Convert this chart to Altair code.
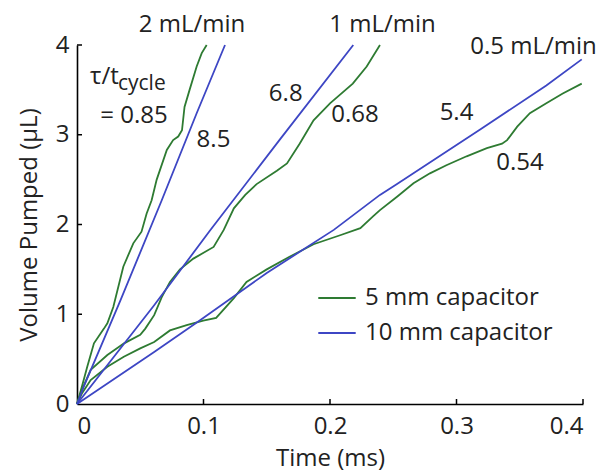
import altair as alt
import pandas as pd

# Pumped volume traces (time in ms, volume in µL) for three flow rates
green_2_t = [0, 0.004, 0.0081, 0.0134, 0.0213, 0.024, 0.0287, 0.0366, 0.0445, 0.051, 0.055,
             0.059, 0.063, 0.071, 0.076, 0.080, 0.083, 0.085, 0.089, 0.0946, 0.0986, 0.1025]
green_2_v = [0, 0.2, 0.415, 0.676, 0.84, 0.90, 1.08, 1.53, 1.79, 1.92, 2.12,
             2.27, 2.50, 2.83, 2.94, 2.98, 3.05, 3.31, 3.50, 3.76, 3.91, 4.0]

green_1_t = [0, 0.004, 0.0108, 0.024, 0.0372, 0.050, 0.054, 0.061, 0.067, 0.0735, 0.0814,
             0.092, 0.108, 0.116, 0.124, 0.133, 0.142, 0.158, 0.166, 0.176, 0.187, 0.200,
             0.218, 0.229, 0.2395]
green_1_v = [0, 0.16, 0.38, 0.546, 0.676, 0.77, 0.84, 0.99, 1.19, 1.36, 1.50,
             1.62, 1.75, 1.94, 2.18, 2.33, 2.45, 2.60, 2.68, 2.90, 3.16, 3.35,
             3.57, 3.76, 4.0]

green_05_t = [0, 0.004, 0.0108, 0.024, 0.037, 0.050, 0.061, 0.0735, 0.0867, 0.0998, 0.110,
              0.124, 0.134, 0.150, 0.168, 0.187, 0.208, 0.224, 0.234, 0.2395, 0.253, 0.266,
              0.279, 0.292, 0.308, 0.324, 0.336, 0.340, 0.348, 0.358, 0.371, 0.384, 0.399]
green_05_v = [0, 0.12, 0.267, 0.415, 0.527, 0.62, 0.69, 0.82, 0.88, 0.93, 0.96,
              1.18, 1.36, 1.50, 1.64, 1.78, 1.88, 1.96, 2.09, 2.16, 2.31, 2.46,
              2.57, 2.66, 2.76, 2.85, 2.90, 2.94, 3.09, 3.24, 3.35, 3.46, 3.57]

blue_2_t = [0, 0.0055, 0.0345, 0.067, 0.0946, 0.117]
blue_2_v = [0, 0.2, 1.16, 2.27, 3.24, 4.0]

blue_1_t = [0, 0.061, 0.105, 0.160, 0.2184]
blue_1_v = [0, 1.1, 1.93, 2.94, 4.0]

blue_05_t = [0, 0.061, 0.097, 0.150, 0.203, 0.2395, 0.253, 0.319, 0.371, 0.399]
blue_05_v = [0, 0.58, 0.93, 1.46, 1.94, 2.33, 2.45, 3.06, 3.55, 3.84]

series = [
    ("5 mm capacitor", "2 mL/min", green_2_t, green_2_v),
    ("5 mm capacitor", "1 mL/min", green_1_t, green_1_v),
    ("5 mm capacitor", "0.5 mL/min", green_05_t, green_05_v),
    ("10 mm capacitor", "2 mL/min", blue_2_t, blue_2_v),
    ("10 mm capacitor", "1 mL/min", blue_1_t, blue_1_v),
    ("10 mm capacitor", "0.5 mL/min", blue_05_t, blue_05_v),
]

rows = []
for cap, flow, ts, vs in series:
    for i, (t, v) in enumerate(zip(ts, vs)):
        rows.append({"time": t, "volume": v, "capacitor": cap,
                     "trace": cap + " " + flow, "order": i})
lines_df = pd.DataFrame(rows)

# Annotation texts and their anchor points in data units
label_text = ["2 mL/min", "1 mL/min", "0.5 mL/min", "= 0.85", "8.5", "6.8", "0.68", "5.4", "0.54"]
label_t = [0.0909, 0.2415, 0.3609, 0.0451, 0.1079, 0.165, 0.2198, 0.300, 0.3502]
label_v = [4.145, 4.14, 3.90, 3.131, 2.864, 3.376, 3.146, 3.164, 2.607]

ratio_text = ["τ/t", "cycle"]
ratio_t = [0.0103, 0.0324]
ratio_v = [3.565, 3.499]
ratio_size = [24, 21]

x_ticks = [0.1, 0.2, 0.3, 0.4]
y_ticks = [1, 2, 3, 4]

GREEN = "#2e7b32"
BLUE = "#3d46c4"
FONT = "Open Sans"
INK = "#222222"

W, H = 506, 359

x_scale = alt.Scale(domain=[0, 0.4], nice=False, zero=False)
y_scale = alt.Scale(domain=[0, 4], nice=False, zero=False)

lines = alt.Chart(lines_df).mark_line(strokeWidth=1.8, clip=False).encode(
    x=alt.X("time:Q", scale=x_scale, title="Time (ms)",
            axis=alt.Axis(values=[0, 0.1, 0.2, 0.3, 0.4], format="~g")),
    y=alt.Y("volume:Q", scale=y_scale, title="Volume Pumped (µL)",
            axis=alt.Axis(values=[0, 1, 2, 3, 4], format="d")),
    color=alt.Color("capacitor:N",
                    scale=alt.Scale(domain=["5 mm capacitor", "10 mm capacitor"],
                                    range=[GREEN, BLUE]),
                    legend=alt.Legend(orient="none", legendX=240, legendY=233,
                                      title=None, symbolType="stroke",
                                      symbolSize=1400, symbolStrokeWidth=2,
                                      labelFont=FONT, labelFontSize=24,
                                      labelColor=INK, labelOffset=8,
                                      labelLimit=0, rowPadding=3, padding=0)),
    detail="trace:N",
    order="order:Q",
)

labels_df = pd.DataFrame({"text": label_text, "time": label_t, "volume": label_v})
labels = alt.Chart(labels_df).mark_text(
    font=FONT, fontSize=24, color=INK, align="center", baseline="alphabetic"
).encode(
    x=alt.X("time:Q", scale=x_scale),
    y=alt.Y("volume:Q", scale=y_scale),
    text="text:N",
)

ratio_df = pd.DataFrame({"text": ratio_text, "time": ratio_t, "volume": ratio_v,
                         "size": ratio_size})
ratio = alt.Chart(ratio_df).mark_text(
    font=FONT, color=INK, align="left", baseline="alphabetic"
).encode(
    x=alt.X("time:Q", scale=x_scale),
    y=alt.Y("volume:Q", scale=y_scale),
    text="text:N",
    size=alt.Size("size:Q", scale=None, legend=None),
)

# Inward-pointing axis ticks
xt = alt.Chart(pd.DataFrame({"time": x_ticks})).mark_rule(color="black", strokeWidth=1.5).encode(
    x=alt.X("time:Q", scale=x_scale),
    y=alt.value(H), y2=alt.value(H - 5),
)
yt = alt.Chart(pd.DataFrame({"volume": y_ticks})).mark_rule(color="black", strokeWidth=1.5).encode(
    y=alt.Y("volume:Q", scale=y_scale),
    x=alt.value(0), x2=alt.value(5),
)

chart = alt.layer(lines, xt, yt, labels, ratio).properties(
    width=W, height=H,
    autosize=alt.AutoSizeParams(type="none"),
    padding={"left": 77, "top": 45, "right": 22, "bottom": 70},
    background="white",
).configure_view(stroke=None).configure_axis(
    grid=False, ticks=False, domainColor="black", domainWidth=1.6,
    labelFont=FONT, labelFontSize=24, labelColor=INK,
    titleFont=FONT, titleFontSize=24, titleFontWeight="normal", titleColor=INK,
).configure_axisX(labelPadding=10, titlePadding=8).configure_axisY(
    labelPadding=8, titlePadding=14
)

chart.save("out.html", embed_options={"renderer": "svg", "actions": False})
